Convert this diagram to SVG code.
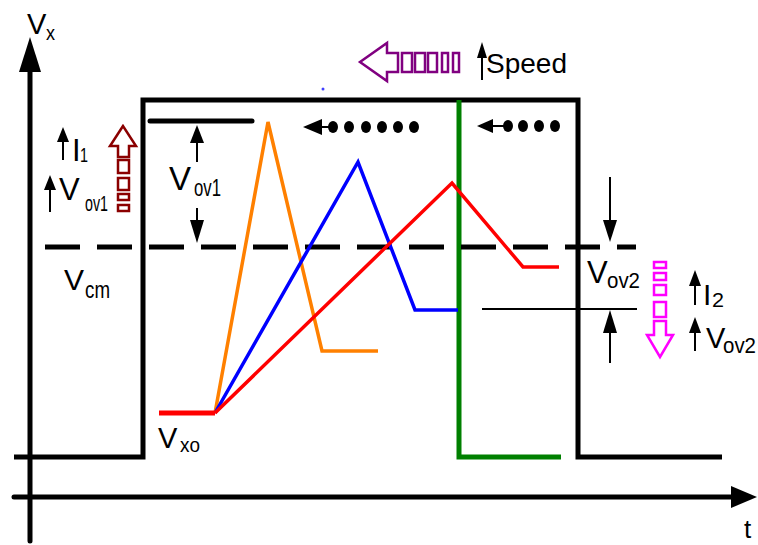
<svg xmlns="http://www.w3.org/2000/svg" width="758" height="545" viewBox="0 0 758 545">
<style>
.ax{stroke:#000;stroke-width:5;fill:none;stroke-linecap:round}
.pk{stroke:#000;stroke-width:5;fill:none;stroke-linejoin:miter}
.th{stroke:#000;stroke-width:2;fill:none}
.hd{fill:#000;stroke:none}
.dash{stroke:#000;stroke-width:5;fill:none;stroke-dasharray:35 17;stroke-linecap:butt}
.cl{stroke-width:3.5;fill:none;stroke-linejoin:miter}
text{font-family:"Liberation Sans",Arial,sans-serif;fill:#000}
.dot{fill:#000}
</style>
<g id="axes">
<line class="ax" x1="30" y1="60" x2="30" y2="541"/>
<polygon class="hd" points="30,37 19,72 41,72"/>
<line class="ax" x1="14" y1="497" x2="735" y2="497"/>
<polygon class="hd" points="757,497 731,486 731,508"/>
<text x="27" y="34" font-size="29">V</text>
<text x="46" y="40" font-size="21" textLength="9" lengthAdjust="spacingAndGlyphs">x</text>
<text x="744" y="538" font-size="26">t</text>
</g>
<g id="pulse">
<polyline class="pk" points="14,457 143,457 143,100 578,100 578,457 722,457"/>
<line class="ax" x1="150" y1="121" x2="252" y2="121"/>
</g>
<g id="green">
<polyline points="459,100 459,457 561,457" fill="none" stroke="#008000" stroke-width="5"/>
</g>
<g id="vcm">
<line class="dash" x1="45" y1="247" x2="636" y2="247"/>
<text x="64" y="290" font-size="30">V</text>
<text x="85" y="298" font-size="24" textLength="25" lengthAdjust="spacingAndGlyphs">cm</text>
</g>
<g id="curves">
<polyline class="cl" stroke="#FF8000" points="215,413 268,122 322,351 378,351"/>
<polyline class="cl" stroke="#0000FF" points="215,413 358,162 415,310 458,310"/>
<polyline class="cl" stroke="#FF0000" points="215,413 452,183 523,267 559,267"/>
<line x1="159" y1="413" x2="215" y2="413" stroke="#FF0000" stroke-width="5"/>
<text x="158" y="448" font-size="29">V</text>
<text x="180" y="452" font-size="20" textLength="20" lengthAdjust="spacingAndGlyphs">xo</text>
</g>
<g id="vov1">
<line class="th" x1="197" y1="140" x2="197" y2="162"/>
<polygon class="hd" points="197,125 190,143 204,143"/>
<line class="th" x1="197" y1="208" x2="197" y2="222"/>
<polygon class="hd" points="197,243 190,220 204,220"/>
<text x="169" y="190" font-size="33">V</text>
<text x="194" y="196" font-size="23" textLength="27" lengthAdjust="spacingAndGlyphs">ov1</text>
</g>
<g id="left-labels">
<line class="th" x1="63" y1="138" x2="63" y2="160"/>
<polygon class="hd" points="63,127 57,142 69,142"/>
<text x="72" y="161" font-size="31">I</text>
<text x="80" y="162" font-size="20" textLength="8" lengthAdjust="spacingAndGlyphs">1</text>
<line class="th" x1="50" y1="186" x2="50" y2="212"/>
<polygon class="hd" points="50,175 44,190 56,190"/>
<text x="59" y="200" font-size="31">V</text>
<text x="85" y="211" font-size="22" textLength="23" lengthAdjust="spacingAndGlyphs">ov1</text>
</g>
<g id="i1-arrow" fill="none" stroke="#8B0000" stroke-width="2.5">
<polygon points="123,126 110,146 118,146 118,157 129,157 129,146 136,146"/>
<rect x="118" y="160" width="11" height="13"/>
<rect x="118" y="178" width="11" height="12"/>
<rect x="118" y="194" width="11" height="6"/>
<rect x="118" y="205" width="11" height="6"/>
</g>
<g id="i2-arrow" fill="none" stroke="#FF00FF" stroke-width="2.5">
<rect x="654" y="262" width="12" height="6"/>
<rect x="654" y="273" width="12" height="7"/>
<rect x="654" y="285" width="12" height="10"/>
<rect x="654" y="302" width="12" height="15"/>
<polygon points="654,321 666,321 666,335 673,335 660,357 647,335 654,335"/>
</g>
<g id="vov2">
<line class="th" x1="610" y1="177" x2="610" y2="222"/>
<polygon class="hd" points="610,242 603,220 617,220"/>
<line class="th" x1="482" y1="309" x2="637" y2="309"/>
<line class="th" x1="610" y1="330" x2="610" y2="363"/>
<polygon class="hd" points="610,310 603,333 617,333"/>
<text x="587" y="283" font-size="31">V</text>
<text x="607" y="288" font-size="22" textLength="33" lengthAdjust="spacingAndGlyphs">ov2</text>
</g>
<g id="right-labels">
<line class="th" x1="695" y1="283" x2="695" y2="305"/>
<polygon class="hd" points="695,270 689,286 701,286"/>
<text x="703" y="305" font-size="30">I</text>
<text x="712" y="307" font-size="21" textLength="12" lengthAdjust="spacingAndGlyphs">2</text>
<line class="th" x1="695" y1="330" x2="695" y2="351"/>
<polygon class="hd" points="695,317 689,333 701,333"/>
<text x="706" y="348" font-size="29">V</text>
<text x="723" y="353" font-size="22" textLength="33" lengthAdjust="spacingAndGlyphs">ov2</text>
</g>
<g id="speed">
<g fill="none" stroke="#800080" stroke-width="2.5">
<polygon points="360,62 387,43 387,53 398,53 398,72 387,72 387,81"/>
<rect x="402" y="53" width="10" height="19"/>
<rect x="415" y="53" width="10" height="19"/>
<rect x="428" y="53" width="9" height="19"/>
<rect x="442" y="53" width="6" height="19"/>
<rect x="453" y="53" width="6" height="19"/>
</g>
<line class="th" x1="482" y1="55" x2="482" y2="80" stroke-width="1.5"/>
<polygon class="hd" points="482,42 477,58 487,58"/>
<text x="486" y="73" font-size="28">Speed</text>
</g>
<g id="dots1">
<line x1="315" y1="127" x2="333" y2="127" stroke="#000" stroke-width="2"/>
<polygon class="hd" points="303,127 322,119 322,135"/>
<ellipse class="dot" cx="333" cy="127" rx="5" ry="6"/>
<ellipse class="dot" cx="349" cy="127" rx="5" ry="6"/>
<ellipse class="dot" cx="366" cy="127" rx="5" ry="6"/>
<ellipse class="dot" cx="382" cy="127" rx="5" ry="6"/>
<ellipse class="dot" cx="398" cy="127" rx="5" ry="6"/>
<ellipse class="dot" cx="414" cy="127" rx="5" ry="6"/>
</g>
<g id="dots2">
<line x1="488" y1="126" x2="508" y2="126" stroke="#000" stroke-width="2"/>
<polygon class="hd" points="477,126 493,119 493,133"/>
<ellipse class="dot" cx="508" cy="126" rx="5" ry="6"/>
<ellipse class="dot" cx="523" cy="126" rx="5" ry="6"/>
<ellipse class="dot" cx="539" cy="126" rx="5" ry="6"/>
<ellipse class="dot" cx="555" cy="126" rx="5" ry="6"/>
</g>
<circle cx="323" cy="89" r="1.5" fill="#4040FF"/>
</svg>
